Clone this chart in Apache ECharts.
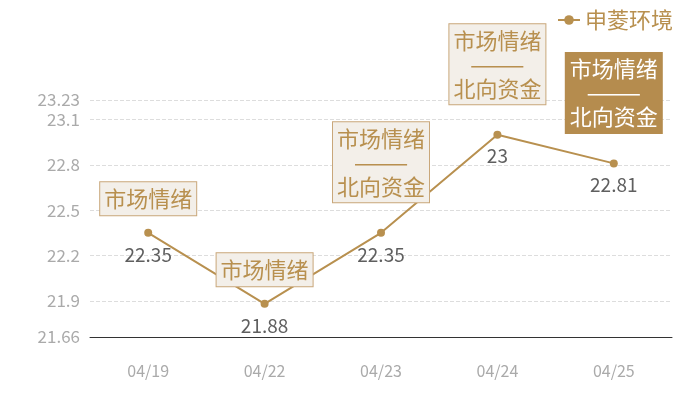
<!DOCTYPE html>
<html>
<head>
<meta charset="utf-8">
<script src="https://cdn.jsdelivr.net/npm/echarts@6/dist/echarts.min.js"></script>
<style>
  html, body { margin: 0; padding: 0; background: #fff; }
  #chart { width: 700px; height: 400px; }
</style>
</head>
<body>
<div id="chart"></div>
<script>
  var dates = ['04/19', '04/22', '04/23', '04/24', '04/25'];
  var prices = [22.35, 21.88, 22.35, 23, 22.81];
  var seriesName = '申菱环境';

  // annotation text per point, and whether the box is filled
  var notes = [
    { idx: 0, text: '市场情绪', filled: false },
    { idx: 1, text: '市场情绪', filled: false },
    { idx: 2, text: '市场情绪\n———\n北向资金', filled: false },
    { idx: 3, text: '市场情绪\n———\n北向资金', filled: false },
    { idx: 4, text: '市场情绪\n———\n北向资金', filled: true }
  ];

  var GOLD = '#b8904f';
  var FONT = '"Noto Sans CJK SC", "Noto Sans", sans-serif';

  var marks = notes.map(function (n) {
    var multi = n.text.indexOf('\n') >= 0;
    return {
      coord: [dates[n.idx], prices[n.idx]],
      symbol: 'circle',
      symbolSize: 1,
      itemStyle: { color: 'rgba(0,0,0,0)' },
      label: {
        show: true,
        position: 'top',
        distance: multi ? 30 : 17,
        formatter: n.text,
        fontFamily: FONT,
        fontSize: 22,
        lineHeight: multi ? 24 : 25,
        color: n.filled ? '#fff' : GOLD,
        backgroundColor: n.filled ? '#b58c4e' : '#f3efe9',
        borderColor: n.filled ? '#b58c4e' : '#c9a77a',
        borderWidth: 1,
        padding: [4, 4],
        align: 'center'
      }
    };
  });

  var chart = echarts.init(document.getElementById('chart'), null, { renderer: 'canvas' });
  chart.setOption({
    animation: false,
    legend: {
      right: 22,
      top: 4,
      itemWidth: 22,
      itemHeight: 12,
      itemGap: 6,
      textStyle: { color: GOLD, fontSize: 22, fontFamily: FONT },
      data: [seriesName]
    },
    grid: { top: 100, bottom: 63, left: 90, right: 28 },
    xAxis: {
      type: 'category',
      data: dates,
      boundaryGap: true,
      axisLine: { lineStyle: { color: '#333' } },
      axisTick: { show: false },
      axisLabel: { color: '#aaa', fontSize: 16, margin: 26, fontFamily: FONT }
    },
    yAxis: {
      type: 'value',
      min: 21.66,
      max: 23.23,
      axisLine: { show: false },
      axisTick: { show: false },
      axisLabel: { color: '#aaa', fontSize: 17, margin: 10, fontFamily: FONT },
      splitLine: { lineStyle: { color: '#ddd', type: 'dashed' } }
    },
    series: [{
      name: seriesName,
      type: 'line',
      data: prices,
      symbol: 'circle',
      symbolSize: 8,
      itemStyle: { color: GOLD },
      lineStyle: { color: GOLD, width: 2 },
      label: {
        show: true,
        position: 'bottom',
        distance: 8,
        color: '#5f5f5f',
        fontSize: 19,
        fontFamily: FONT
      },
      markPoint: { silent: true, data: marks }
    }]
  });
</script>
</body>
</html>
